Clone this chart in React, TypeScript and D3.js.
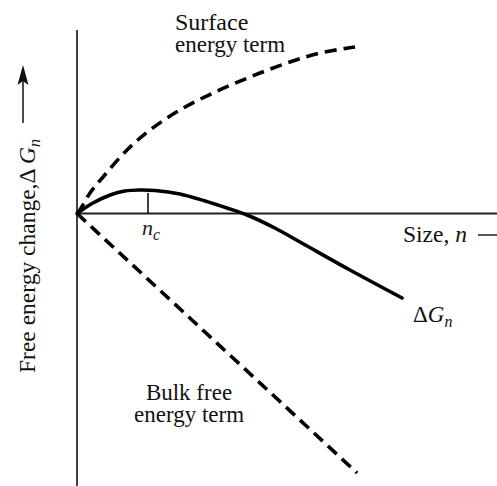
import React from "react";
import * as d3 from "d3";

// Values (size n, free energy in arbitrary units)
const surfaceN = [0, 0.7, 3.1, 6.2, 11.9, 17.4, 24.5, 32.4, 41.2, 50.0, 57.9, 66.2];
const surfaceG = [0, 1.4, 8.2, 14.6, 25.4, 33.4, 41.4, 48.2, 54.6, 60.2, 64.2, 66.6];

const bulkN = [0, 66.7];
const bulkG = [0, -103.8];

const deltaN = [0, 3.8, 7.9, 11.4, 15.0, 18.6, 24.5, 30.5, 35.7, 40.5, 47.1, 53.1, 65.0, 77.4];
const deltaG = [0, 4.2, 7.4, 9.0, 9.4, 9.2, 7.8, 5.0, 2.2, -0.6, -5.8, -11.4, -22.6, -33.8];

const nCritical = 16.9;
const nCriticalTickTop = 8.2;

const W = 497;
const H = 486;
const FONT = "'Liberation Serif', 'Times New Roman', serif";

const App: React.FC = () => {
  const x = d3.scaleLinear().domain([0, 100]).range([77, 497]);
  const y = d3.scaleLinear().domain([-109, 85.4]).range([486, 0]);

  const line = d3
    .line<[number, number]>()
    .x((d) => x(d[0]))
    .y((d) => y(d[1]))
    .curve(d3.curveCatmullRom.alpha(0.5));

  const zip = (a: number[], b: number[]) => a.map((v, i) => [v, b[i]] as [number, number]);

  const surfacePath = line(zip(surfaceN, surfaceG)) || "";
  const bulkPath = d3.line<[number, number]>().x((d) => x(d[0])).y((d) => y(d[1]))(zip(bulkN, bulkG)) || "";
  const deltaPath = line(zip(deltaN, deltaG)) || "";

  return (
    <svg
      width={W}
      height={H}
      style={{ position: "absolute", left: 0, top: 0, background: "white" }}
      fontFamily={FONT}
    >
      <rect width={W} height={H} fill="white" />

      {/* axes */}
      <line x1={x(0)} x2={x(0)} y1={y(73.4)} y2={y(-109)} stroke="#111" strokeWidth={1.6} />
      <line x1={x(0)} x2={x(100)} y1={y(0)} y2={y(0)} stroke="#222" strokeWidth={1.8} />

      {/* curves */}
      <path d={surfacePath} fill="none" stroke="#000" strokeWidth={3.6} strokeDasharray="12 7" />
      <path d={bulkPath} fill="none" stroke="#000" strokeWidth={3.6} strokeDasharray="12 7" />
      <path d={deltaPath} fill="none" stroke="#000" strokeWidth={3.6} strokeLinecap="round" />

      {/* critical size tick */}
      <line
        x1={x(nCritical)}
        x2={x(nCritical)}
        y1={y(nCriticalTickTop)}
        y2={y(0)}
        stroke="#111"
        strokeWidth={1.6}
      />
      <text x={142} y={235} fontSize={22} fill="#222" fontStyle="italic">
        n
        <tspan fontSize={16} dy={5}>c</tspan>
      </text>

      {/* labels */}
      <text x={175} y={30} fontSize={24} fill="#111">Surface</text>
      <text x={175} y={52} fontSize={23} fill="#111">energy term</text>

      <text x={189} y={400} fontSize={23} fill="#111" textAnchor="middle">Bulk free</text>
      <text x={189} y={422} fontSize={23} fill="#111" textAnchor="middle">energy term</text>

      <text x={403} y={242} fontSize={23.5} fill="#111">
        Size, <tspan fontStyle="italic">n</tspan>
      </text>
      <line x1={478} x2={497} y1={235} y2={235} stroke="#111" strokeWidth={1.4} />

      <text x={413} y={322} fontSize={23} fill="#111">
        Δ<tspan fontStyle="italic">G</tspan>
        <tspan fontStyle="italic" fontSize={16} dy={5}>n</tspan>
      </text>

      {/* y-axis title with arrow */}
      <text transform="translate(35,373) rotate(-90)" fontSize={23.5} fill="#111">
        Free energy change,Δ <tspan fontStyle="italic">G</tspan>
        <tspan fontStyle="italic" fontSize={16} dy={5}>n</tspan>
      </text>
      <line x1={23} x2={23} y1={123} y2={80} stroke="#111" strokeWidth={1.5} />
      <path d="M23,65 L17.5,85 L23,81 L28.5,85 Z" fill="#111" />
    </svg>
  );
};

export default App;
